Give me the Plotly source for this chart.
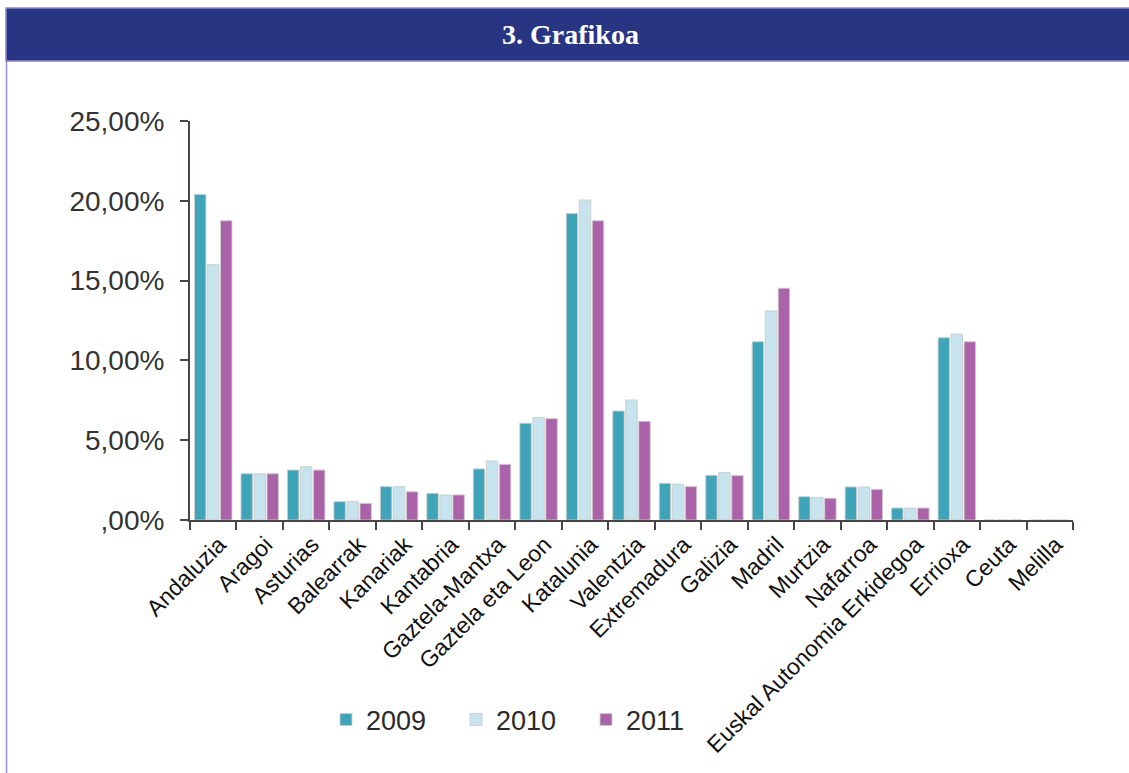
import plotly.graph_objects as go

regions = ["Andaluzia", "Aragoi", "Asturias", "Balearrak", "Kanariak", "Kantabria",
           "Gaztela-Mantxa", "Gaztela eta Leon", "Katalunia", "Valentzia", "Extremadura",
           "Galizia", "Madril", "Murtzia", "Nafarroa", "Euskal Autonomia Erkidegoa",
           "Errioxa", "Ceuta", "Melilla"]

v2009 = [20.4, 2.9, 3.13, 1.15, 2.09, 1.67, 3.2, 6.06, 19.2, 6.83, 2.3,
         2.8, 11.17, 1.46, 2.07, 0.75, 11.42, 0.0, 0.0]
v2010 = [16.0, 2.9, 3.34, 1.15, 2.09, 1.57, 3.7, 6.43, 20.05, 7.52, 2.25,
         2.97, 13.1, 1.42, 2.07, 0.75, 11.65, 0.0, 0.0]
v2011 = [18.75, 2.9, 3.13, 1.04, 1.77, 1.57, 3.49, 6.35, 18.75, 6.18, 2.09,
         2.78, 14.52, 1.36, 1.92, 0.75, 11.17, 0.0, 0.0]

series_names = ["2009", "2010", "2011"]
colors = ["#3FA4B8", "#C6E3EE", "#AA62A8"]

ytick_vals = [0, 5, 10, 15, 20, 25]
ytick_text = [",00%", "5,00%", "10,00%", "15,00%", "20,00%", "25,00%"]

W, H = 1129, 773
L, R, T, B = 190, 1073, 121, 520  # plot area in pixels


def px(x):
    return (x - L) / (R - L)


def py(y):
    return (B - y) / (B - T)


fig = go.Figure()
for name, vals, col in zip(series_names, [v2009, v2010, v2011], colors):
    fig.add_trace(go.Bar(
        x=regions, y=vals, name=name,
        marker=dict(color=col, line=dict(color="rgba(205,205,205,0.9)", width=1)),
    ))

fig.update_layout(
    width=W, height=H,
    margin=dict(l=L, r=W - R, t=T, b=H - B, pad=0, autoexpand=False),
    paper_bgcolor="white", plot_bgcolor="white",
    barmode="group", bargap=0.16, bargroupgap=0.12,
    font=dict(family="Liberation Sans, Arial, sans-serif", color="#222"),
    showlegend=True,
    legend=dict(orientation="h", x=px(326), xanchor="left", y=py(720), yanchor="middle",
                font=dict(size=27, color="#2a2a2a"), entrywidth=85, entrywidthmode="pixels",
                itemwidth=30, traceorder="normal", bgcolor="rgba(0,0,0,0)"),
    xaxis=dict(
        type="category", showgrid=False, showline=True, linecolor="#4a4444", linewidth=2,
        ticks="outside", tickson="boundaries", ticklen=8, tickwidth=2, tickcolor="#4a4444",
        tickangle=-45, tickfont=dict(size=23, color="#111"), fixedrange=True, automargin=False,
        ticklabelshift=6,
    ),
    yaxis=dict(
        range=[0, 25], showgrid=False, zeroline=False, showline=True, linecolor="#4a4444",
        linewidth=2, ticks="outside", ticklen=8, tickwidth=2, tickcolor="#4a4444",
        tickvals=ytick_vals, ticktext=ytick_text, tickfont=dict(size=28, color="#333"),
        ticklabelstandoff=10, fixedrange=True, automargin=False,
    ),
    shapes=[
        # header band
        dict(type="rect", xref="paper", yref="paper", x0=px(6), x1=px(1135), y0=py(61), y1=py(8),
             fillcolor="#283583", line=dict(color="#8F86C6", width=1.5), layer="above"),
        # left frame line
        dict(type="line", xref="paper", yref="paper", x0=px(6.5), x1=px(6.5), y0=py(61), y1=py(780),
             line=dict(color="#9A90D8", width=1.5)),
    ],
    annotations=[
        dict(text="<b>3. Grafikoa</b>", xref="paper", yref="paper", x=px(570), y=py(35),
             xanchor="center", yanchor="middle", showarrow=False,
             font=dict(family="Liberation Serif, Times New Roman, serif", size=28, color="white")),
    ],
)

fig.write_html("out.html", post_script="document.body.style.margin='0';",
               config={"displayModeBar": False})
